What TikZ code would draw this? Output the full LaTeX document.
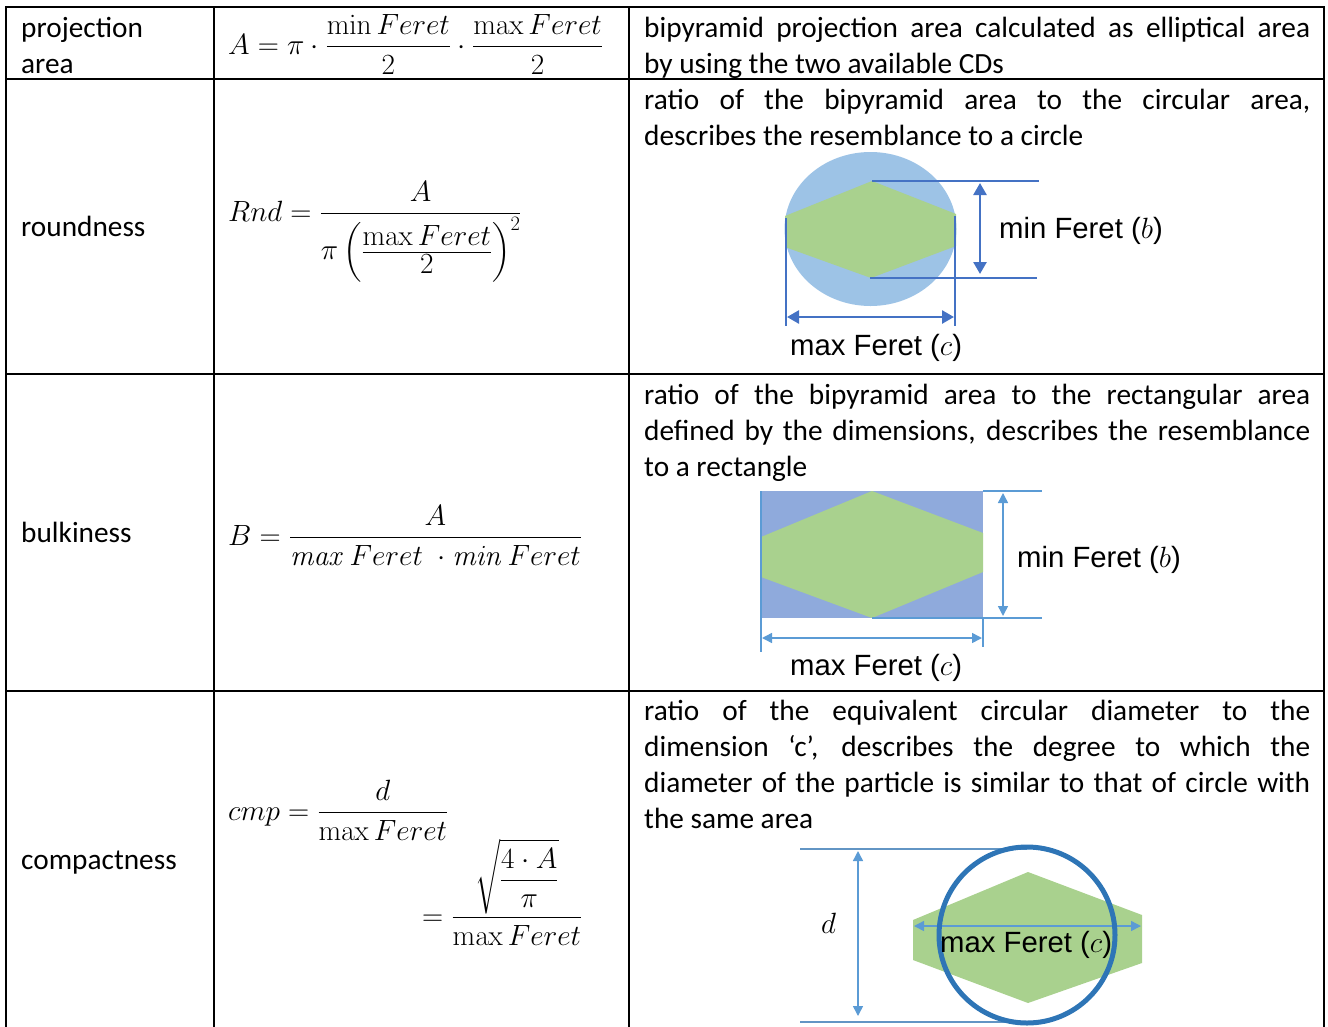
\RequirePackage{fix-cm}
\documentclass[tikz,border=0pt]{standalone}
\usepackage{amsmath}
\usepackage[no-math]{fontspec}
\newfontfamily\bodyfont{Carlito}
\newfontfamily\labelfont{Liberation Sans}
\usetikzlibrary{arrows.meta}
\definecolor{hexgreen}{HTML}{A9D18E}
\definecolor{roundfill}{HTML}{9DC3E6}
\definecolor{rectfill}{HTML}{8FAADC}
\definecolor{darkline}{HTML}{4472C4}
\definecolor{lightline}{HTML}{5B9BD5}
\definecolor{ringline}{HTML}{2E75B6}

\begin{document}
\begin{tikzpicture}[
    x=1pt, y=-1pt,
    cell/.style={anchor=base west, inner sep=0pt, font=\bodyfont\fontsize{29.3}{36}\selectfont},
    formula/.style={anchor=base west, inner sep=0pt, font=\fontsize{29.3}{36}\selectfont},
    dimlabel/.style={anchor=base west, inner sep=0pt, font=\labelfont\fontsize{29.3}{36}\selectfont},
    tableline/.style={line width=2.2pt},
    hex/.style={fill=hexgreen},
    extline/.style={line width=1.1pt},
    bigarrow/.style={line width=2.6pt, {Triangle[width=13pt,length=12pt]}-{Triangle[width=13pt,length=12pt]}},
    smallarrow/.style={line width=1.5pt, {Triangle[width=10pt,length=10pt]}-{Triangle[width=10pt,length=10pt]}}
]
\useasboundingbox (0,0) rectangle (1328,1026);
% Table grid
\draw[tableline] (6,1030) -- (6,7) -- (1324,7) -- (1324,1030);
\draw[tableline] (214,7) -- (214,1030);
\draw[tableline] (629,7) -- (629,1030);
\foreach \ry in {79,374,691}
  \draw[tableline] (6,\ry) -- (1324,\ry);
% First column
\node[cell] (name1) at (21,37) {projection};
\node[cell] (name1b) at (21,73) {area};
\node[cell] (name2) at (21,236) {roundness};
\node[cell] (name3) at (21,542) {bulkiness};
\node[cell] (name4) at (21,869) {compactness};
% Formulas
\node[formula] (eq1) at (228,54) {$A=\pi\cdot\dfrac{\min Feret}{2}\cdot\dfrac{\max Feret}{2}$};
\node[formula] (eq2) at (228,221) {$Rnd=\dfrac{A}{\rule{0pt}{40pt}\pi\left(\textstyle\frac{\displaystyle\max Feret\rule[-5pt]{0pt}{0pt}}{\displaystyle\rule{0pt}{20pt}2}\right)^{2}}$};
\node[formula] (eq3) at (228,545) {$B=\dfrac{A}{\mathit{max}\,Feret\;\cdot\mathit{min}\,Feret}$};
\node[formula] (eq4) at (228,820) {$cmp=\dfrac{d}{\max Feret}$};
\node[formula] (eq4b) at (422,925) {$=\dfrac{\sqrt{\dfrac{4\cdot A}{\pi}}}{\max Feret}$};
% Descriptions
\node[cell] (text1) at (644,37) {\parbox[t]{666pt}{bipyramid projection area calculated as elliptical area\linebreak by using the two available CDs}};
\node[cell] (text2) at (644,109) {\parbox[t]{666pt}{ratio of the bipyramid area to the circular area,\linebreak describes the resemblance to a circle}};
\node[cell] (text3) at (644,404) {\parbox[t]{666pt}{ratio of the bipyramid area to the rectangular area\linebreak defined by the dimensions, describes the resemblance\linebreak to a rectangle}};
\node[cell] (text4) at (644,720) {\parbox[t]{666pt}{ratio of the equivalent circular diameter to the\linebreak dimension ‘c’, describes the degree to which the\linebreak diameter of the particle is similar to that of circle with\linebreak the same area}};
% Roundness sketch
\fill[roundfill] (870.5,229) ellipse [x radius=86, y radius=77];
\fill[hex] (785,216) -- (872,181) -- (956,214) -- (956,246) -- (871,278) -- (785,247) -- cycle;
\coordinate (r-top) at (872,181);
\coordinate (r-bot) at (870,278);
\coordinate (r-left) at (786,218);
\coordinate (r-right) at (955,216);
\draw[darkline, extline] (r-top) -- (1039,181);
\draw[darkline, extline] (r-bot) -- (1037,278);
\draw[darkline, extline] (r-left) -- (786,326);
\draw[darkline, extline] (r-right) -- (955,326);
\coordinate (rb1) at (980,183);
\coordinate (rb2) at (980,274);
\coordinate (rc1) at (787,317);
\coordinate (rc2) at (954,317);
\draw[darkline, bigarrow] (rb1) -- (rb2);
\draw[darkline, bigarrow] (rc1) -- (rc2);
\node[dimlabel] (rblab) at (999,238) {min Feret ($b$)};
\node[dimlabel] (rclab) at (790,355) {max Feret ($c$)};
% Bulkiness sketch
\fill[rectfill] (760,491) rectangle (983,618);
\fill[hex] (872,491) -- (983,533) -- (983,572) -- (872,618) -- (761,577) -- (761,537) -- cycle;
\coordinate (b-top) at (983,491);
\coordinate (b-bot) at (872,618);
\draw[lightline, extline] (b-top) -- (1042,491);
\draw[lightline, extline] (b-bot) -- (1042,618);
\draw[lightline, extline] (761,491) -- (761,652);
\draw[lightline, extline] (983,618) -- (983,647);
\coordinate (bb1) at (1003,493);
\coordinate (bb2) at (1003,616);
\coordinate (bc1) at (762,638);
\coordinate (bc2) at (982,638);
\draw[lightline, smallarrow] (bb1) -- (bb2);
\draw[lightline, smallarrow] (bc1) -- (bc2);
\node[dimlabel] (bblab) at (1017,567) {min Feret ($b$)};
\node[dimlabel] (bclab) at (790,675) {max Feret ($c$)};
% Compactness sketch
\draw[lightline!80!gray, extline] (800,849) -- (1027,849);
\draw[lightline!80!gray, extline] (800,1022) -- (1027,1022);
\coordinate (cd1) at (858,851);
\coordinate (cd2) at (858,1016);
\draw[lightline, smallarrow] (cd1) -- (cd2);
\node[formula] (dlab) at (821,933) {$d$};
\fill[hex] (1028,872) -- (1142,915) -- (1142,963) -- (1028,1003) -- (913,960) -- (913,920) -- cycle;
\coordinate (cc1) at (914,926);
\coordinate (cc2) at (1141,926);
\draw[lightline, smallarrow] (cc1) -- (cc2);
\draw[ringline, line width=5pt] (1027,935) circle [radius=88];
\node[dimlabel] (cclab) at (940,952) {max Feret ($c$)};
\end{tikzpicture}
\end{document}
